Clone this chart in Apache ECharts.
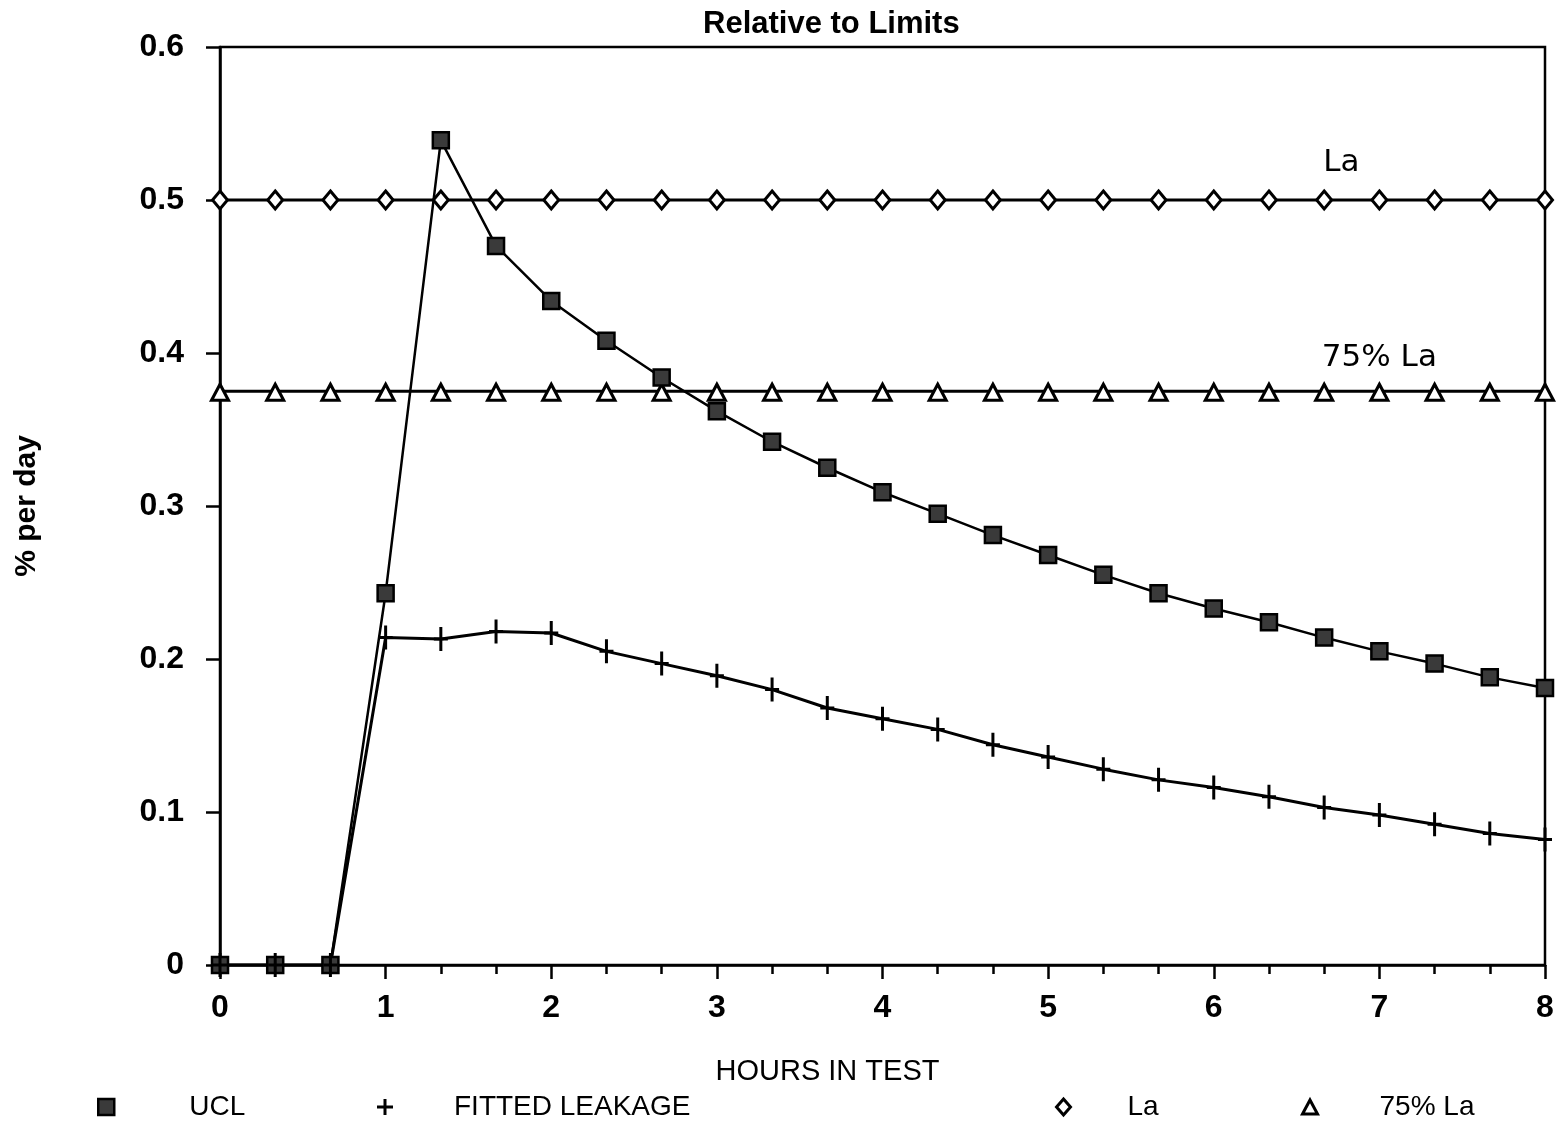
<!DOCTYPE html>
<html>
<head>
<meta charset="utf-8">
<title>Relative to Limits</title>
<script src="https://cdn.jsdelivr.net/npm/echarts@6/dist/echarts.min.js"></script>
<style>
  html, body { margin: 0; padding: 0; background: #fff; }
  #chart { width: 1559px; height: 1127px; }
</style>
</head>
<body>
<div id="chart"></div>
<script>
// Hours into the test, one reading every 20 minutes
const hours = [0, 1/3, 2/3, 1, 4/3, 5/3, 2, 7/3, 8/3, 3, 10/3, 11/3, 4, 13/3, 14/3, 5,
               16/3, 17/3, 6, 19/3, 20/3, 7, 22/3, 23/3, 8];

// Upper confidence limit, % per day
const ucl = [0, 0, 0, 0.243, 0.539, 0.470, 0.434, 0.408, 0.384, 0.362, 0.342, 0.325, 0.309,
             0.295, 0.281, 0.268, 0.255, 0.243, 0.233, 0.224, 0.214, 0.205, 0.197, 0.188, 0.181];

// Fitted leakage rate, % per day
const fitted = [0, 0, 0, 0.214, 0.213, 0.218, 0.217, 0.205, 0.197, 0.189, 0.180, 0.168, 0.161,
                0.154, 0.144, 0.136, 0.128, 0.121, 0.116, 0.110, 0.103, 0.098, 0.092, 0.086, 0.082];

// Allowable leakage La and 75% of La
const laLimit = 0.5;
const la75Limit = 0.375;

const seriesNames = ['UCL', 'FITTED LEAKAGE', 'La', '75% La'];
const yTicks = { min: 0, max: 0.6, step: 0.1 };
const xTicks = { min: 0, max: 8, step: 1 };

const pair = (ys) => hours.map((h, i) => [h, ys[i]]);
const flat = (v) => hours.map(h => [h, v]);

// Marker shapes for the plus signs
const plusTall = 'path://M5.5,0H8.5V10.5H14V13.5H8.5V24H5.5V13.5H0V10.5H5.5Z';
const plusLegend = 'path://M6.5,0H9.5V6.5H16V9.5H9.5V16H6.5V9.5H0V6.5H6.5Z';

const baseFont = '"Liberation Sans", Arial, sans-serif';
const roundFont = '"DejaVu Sans", "Liberation Sans", sans-serif';

const chart = echarts.init(document.getElementById('chart'), null, { renderer: 'canvas' });

const legendCommon = {
  orient: 'horizontal',
  top: 1088,
  itemWidth: 16,
  itemHeight: 16,
  selectedMode: false,
  textStyle: { fontFamily: baseFont, fontSize: 28, color: '#000' }
};

chart.setOption({
  animation: false,
  backgroundColor: '#fff',
  title: {
    text: 'Relative to Limits',
    left: 698,
    top: 4,
    textStyle: { fontFamily: baseFont, fontSize: 31, fontWeight: 'bold', color: '#000' }
  },
  grid: {
    left: 220, right: 14, top: 47, bottom: 162,
    show: true, borderColor: '#000', borderWidth: 2.5, backgroundColor: 'transparent'
  },
  legend: [
    Object.assign({}, legendCommon, {
      left: 92, itemWidth: 16, itemHeight: 16,
      data: [{ name: seriesNames[0], icon: 'rect' }],
      itemStyle: { color: '#3a3a3a', borderColor: '#000', borderWidth: 2.5 },
      textStyle: Object.assign({}, legendCommon.textStyle, { padding: [0, 0, 0, 70] })
    }),
    Object.assign({}, legendCommon, {
      left: 372,
      data: [{ name: seriesNames[1], icon: plusLegend }],
      textStyle: Object.assign({}, legendCommon.textStyle, { padding: [0, 0, 0, 56] })
    }),
    Object.assign({}, legendCommon, {
      left: 1050, itemWidth: 14, itemHeight: 16,
      data: [{ name: seriesNames[2], icon: 'diamond' }],
      itemStyle: { color: '#fff', borderColor: '#000', borderWidth: 3 },
      textStyle: Object.assign({}, legendCommon.textStyle, { padding: [0, 0, 0, 52] })
    }),
    Object.assign({}, legendCommon, {
      left: 1296, itemWidth: 15, itemHeight: 14,
      data: [{ name: seriesNames[3], icon: 'triangle' }],
      itemStyle: { color: '#fff', borderColor: '#000', borderWidth: 3 },
      textStyle: Object.assign({}, legendCommon.textStyle, { padding: [0, 0, 0, 57] })
    })
  ],
  xAxis: {
    type: 'value',
    min: xTicks.min, max: xTicks.max, interval: xTicks.step,
    name: 'HOURS IN TEST',
    nameLocation: 'middle',
    nameGap: 92,
    nameTextStyle: { fontFamily: baseFont, fontSize: 29, color: '#000', padding: [0, 110, 0, 0] },
    axisLine: { show: true, lineStyle: { color: '#000', width: 2.5 } },
    axisTick: { show: true, length: 14, lineStyle: { color: '#000', width: 2.5 } },
    minorTick: { show: true, splitNumber: 3, length: 9, lineStyle: { color: '#000', width: 2.5 } },
    axisLabel: { margin: 27, fontFamily: baseFont, fontSize: 32, fontWeight: 'bold', color: '#000' },
    splitLine: { show: false }
  },
  yAxis: {
    type: 'value',
    min: yTicks.min, max: yTicks.max, interval: yTicks.step,
    name: '% per day',
    nameLocation: 'middle',
    nameGap: 178,
    nameRotate: 90,
    nameTextStyle: { fontFamily: baseFont, fontSize: 30, fontWeight: 'bold', color: '#000' },
    axisLine: { show: true, lineStyle: { color: '#000', width: 2.5 } },
    axisTick: { show: true, length: 14, lineStyle: { color: '#000', width: 2.5 } },
    axisLabel: { margin: 36, fontFamily: baseFont, fontSize: 32, fontWeight: 'bold', color: '#000' },
    splitLine: { show: false }
  },
  series: [
    {
      name: seriesNames[2],
      type: 'line',
      data: flat(laLimit),
      symbol: 'diamond',
      symbolSize: [15, 18],
      lineStyle: { color: '#000', width: 3 },
      itemStyle: { color: '#fff', borderColor: '#000', borderWidth: 3 },
      z: 2,
      markPoint: {
        symbol: 'circle', symbolSize: 0,
        data: [{ coord: [6.77, laLimit] }],
        label: {
          show: true, formatter: 'La', position: 'top', distance: 22,
          fontFamily: roundFont, fontSize: 31, color: '#000'
        }
      }
    },
    {
      name: seriesNames[3],
      type: 'line',
      data: flat(la75Limit),
      symbol: 'triangle',
      symbolSize: [17, 16],
      symbolOffset: [0, 1],
      lineStyle: { color: '#000', width: 3 },
      itemStyle: { color: '#fff', borderColor: '#000', borderWidth: 3 },
      z: 2,
      markPoint: {
        symbol: 'circle', symbolSize: 0,
        data: [{ coord: [7.0, la75Limit] }],
        label: {
          show: true, formatter: '75% La', position: 'top', distance: 18,
          fontFamily: roundFont, fontSize: 31, color: '#000'
        }
      }
    },
    {
      name: seriesNames[0],
      type: 'line',
      data: pair(ucl),
      symbol: 'rect',
      symbolSize: 16,
      lineStyle: { color: '#000', width: 2.5 },
      itemStyle: { color: '#3a3a3a', borderColor: '#000', borderWidth: 2.5 },
      z: 3
    },
    {
      name: seriesNames[1],
      type: 'line',
      data: pair(fitted),
      symbol: plusTall,
      symbolSize: [14, 24],
      lineStyle: { color: '#000', width: 3 },
      itemStyle: { color: '#000', borderWidth: 0 },
      z: 3
    }
  ]
});
</script>
</body>
</html>
